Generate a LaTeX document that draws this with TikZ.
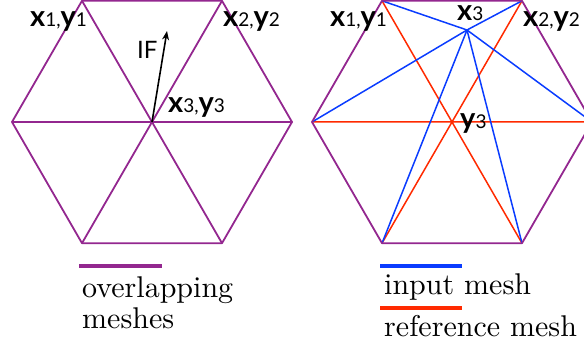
\documentclass[tikz,border=0pt]{standalone}
\usepackage{fontspec}
\newfontfamily\gillfont{Lato}
\newfontfamily\keyfont{lmroman10-regular}[Extension=.otf]
\usepackage{xcolor}
\definecolor{meshpurple}{HTML}{93278F}
\definecolor{inputblue}{HTML}{0A3CFF}
\definecolor{refred}{HTML}{FF2A00}
\usetikzlibrary{arrows.meta,positioning}
\newcommand{\digsize}{\mdseries\fontsize{19}{19}\selectfont}
\newcommand{\xylbl}[1]{\textbf{x}{\digsize #1,}\textbf{y}{\digsize #1}}

\begin{document}
\begin{tikzpicture}[
		x=1pt,
		y=-1pt,
		>={Stealth[length=9pt,width=7pt]},
		mesh/.style={meshpurple, line width=1.8pt, line join=round},
		inmesh/.style={inputblue, line width=1.5pt},
		refmesh/.style={refred, line width=1.5pt},
		keyline/.style={line width=4pt},
		ptlabel/.style={font=\gillfont\fontsize{29}{29}\selectfont, inner sep=0pt, anchor=base west, text height=15pt, text depth=7pt},
		legendtext/.style={font=\keyfont\fontsize{30}{31}\selectfont, inner sep=0pt, anchor=base west}
	]
	\useasboundingbox (0,0) rectangle (584,347);

	% hexagon corners, left (L) and right (R) panels
	\foreach \side/\cx in {L/152,R/452}{
		\coordinate (\side c) at (\cx,122);
		\coordinate (\side nw) at (\cx-70,0.8);
		\coordinate (\side ne) at (\cx+70,0.8);
		\coordinate (\side e) at (\cx+140,122);
		\coordinate (\side se) at (\cx+70,243.2);
		\coordinate (\side sw) at (\cx-70,243.2);
		\coordinate (\side w) at (\cx-140,122);
	}
	\coordinate (X3) at (467,30);
	\coordinate (IFtip) at (167,31);

	% reference mesh
	\draw[refmesh] (Rw) -- (Re) (Rnw) -- (Rse) (Rne) -- (Rsw);

	% input mesh -- every corner tied to the moved x3
	\foreach \v in {nw,ne,e,se,sw,w}
		\draw[inmesh] (X3) -- (R\v);

	% overlapping meshes
	\foreach \side in {L,R}
		\draw[mesh] (\side nw) -- (\side ne) -- (\side e) -- (\side se) -- (\side sw) -- (\side w) -- cycle;
	\draw[mesh] (Lw) -- (Le) (Lnw) -- (Lse) (Lne) -- (Lsw);

	% interface velocity
	\draw[->, line width=1.6pt] (Lc) -- (IFtip);
	\node[ptlabel, font=\gillfont\fontsize{24}{24}\selectfont] (IFlbl) at (137,59) {IF};

	% point labels
	\node[ptlabel] (LlblA) at (30,27) {\xylbl{1}};
	\node[ptlabel] (LlblB) at (223,27) {\xylbl{2}};
	\node[ptlabel] (LlblC) at (168,113) {\xylbl{3}};
	\node[ptlabel] (RlblA) at (330,27) {\xylbl{1}};
	\node[ptlabel] (RlblB) at (523,27) {\xylbl{2}};
	\node[ptlabel] (RlblX) at (457,21) {\textbf{x}{\digsize 3}};
	\node[ptlabel] (RlblY) at (460,129) {\textbf{y}{\digsize 3}};

	% legend
	\coordinate (keyPa) at (79,266);
	\coordinate (keyPb) at (162,266);
	\coordinate (keyBa) at (380,266);
	\coordinate (keyBb) at (462,266);
	\coordinate (keyRa) at (380,308);
	\coordinate (keyRb) at (462,308);
	\draw[keyline, meshpurple] (keyPa) -- (keyPb);
	\draw[keyline, inputblue] (keyBa) -- (keyBb);
	\draw[keyline, refred] (keyRa) -- (keyRb);
	\node[legendtext] (overlapTxt) at (82,298) {overlapping};
	\node[legendtext] (meshesTxt) at (82,329) {meshes};
	\node[legendtext] (inputTxt) at (384,295) {input mesh};
	\node[legendtext] (refTxt) at (384,337) {reference mesh};
\end{tikzpicture}
\end{document}
